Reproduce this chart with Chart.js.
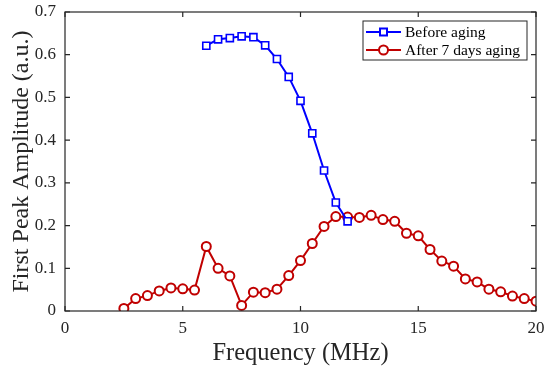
<!DOCTYPE html>
<html>
<head>
<meta charset="utf-8">
<script src="https://cdn.jsdelivr.net/npm/chart.js@4"></script>
<style>
  body { margin: 0; background: #fff; }
  #wrap { width: 550px; height: 375px; }
</style>
</head>
<body>
<div id="wrap"><canvas id="peak-chart"></canvas></div>
<script>
const freq_before = [6, 6.5, 7, 7.5, 8, 8.5, 9, 9.5, 10, 10.5, 11, 11.5, 12]
const amp_before = [0.621, 0.636, 0.639, 0.643, 0.641, 0.622, 0.590, 0.548, 0.492, 0.416, 0.329, 0.254, 0.210]

const freq_after = [2.5, 3, 3.5, 4, 4.5, 5, 5.5, 6, 6.5, 7, 7.5, 8, 8.5, 9, 9.5, 10, 10.5, 11, 11.5, 12,
                    12.5, 13, 13.5, 14, 14.5, 15, 15.5, 16, 16.5, 17, 17.5, 18, 18.5, 19, 19.5, 20]
const amp_after = [0.006, 0.029, 0.036, 0.047, 0.054, 0.052, 0.049, 0.151, 0.100, 0.082, 0.013, 0.044, 0.043, 0.051,
                   0.083, 0.118, 0.158, 0.198, 0.221, 0.220, 0.219, 0.224, 0.214, 0.210, 0.182, 0.176, 0.144, 0.117,
                   0.105, 0.075, 0.068, 0.051, 0.045, 0.035, 0.029, 0.023]

const series_names = ["Before aging", "After 7 days aging"]
const series_colours = ["#0000ff", "#c00000"]
const x_ticks = [0, 5, 10, 15, 20]
const y_ticks = [0, 0.1, 0.2, 0.3, 0.4, 0.5, 0.6, 0.7]

const serif = "'Liberation Serif', 'Times New Roman', serif"

function toPoints(xs, ys) {
  return xs.map((x, i) => ({x: x, y: ys[i]}))
}

// MATLAB style box with inward ticks on all four sides
const boxPlugin = {
  id: 'box',
  afterDatasetsDraw(chart) {
    const ctx = chart.ctx
    const a = chart.chartArea
    const xs = chart.scales.x
    const ys = chart.scales.y
    ctx.save()
    ctx.strokeStyle = '#262626'
    ctx.lineWidth = 1.2
    ctx.strokeRect(a.left, a.top, a.right - a.left, a.bottom - a.top)
    ctx.beginPath()
    x_ticks.forEach(v => {
      const px = xs.getPixelForValue(v)
      ctx.moveTo(px, a.bottom); ctx.lineTo(px, a.bottom - 5)
      ctx.moveTo(px, a.top); ctx.lineTo(px, a.top + 5)
    })
    y_ticks.forEach(v => {
      const py = ys.getPixelForValue(v)
      ctx.moveTo(a.left, py); ctx.lineTo(a.left + 5, py)
      ctx.moveTo(a.right, py); ctx.lineTo(a.right - 5, py)
    })
    ctx.stroke()

    // legend box
    const lx = 363, ly = 21, lw = 164, lh = 39
    ctx.fillStyle = '#fff'
    ctx.fillRect(lx, ly, lw, lh)
    ctx.strokeStyle = '#262626'
    ctx.lineWidth = 1
    ctx.strokeRect(lx, ly, lw, lh)
    ctx.font = "15.5px " + serif
    ctx.textBaseline = 'middle'
    chart.data.datasets.forEach((ds, i) => {
      const cy = ly + 11 + i * 18
      ctx.strokeStyle = ds.borderColor
      ctx.lineWidth = 2
      ctx.beginPath()
      ctx.moveTo(lx + 3, cy); ctx.lineTo(lx + 38, cy)
      ctx.stroke()
      ctx.fillStyle = '#fff'
      ctx.beginPath()
      if (ds.pointStyle === 'rect') {
        ctx.rect(lx + 20.5 - 3.5, cy - 3.5, 7, 7)
      } else {
        ctx.arc(lx + 20.5, cy, 4.5, 0, Math.PI * 2)
      }
      ctx.fill()
      ctx.stroke()
      ctx.fillStyle = '#000'
      ctx.fillText(ds.label, lx + 42, cy + 1)
    })
    ctx.restore()
  }
}

new Chart("peak-chart", {
  type: "line",
  data: {
    datasets: [
      {label: series_names[0], data: toPoints(freq_before, amp_before), borderColor: series_colours[0],
       backgroundColor: '#fff', borderWidth: 2, pointStyle: 'rect', pointRadius: 5, pointBorderWidth: 1.6, tension: 0},
      {label: series_names[1], data: toPoints(freq_after, amp_after), borderColor: series_colours[1],
       backgroundColor: '#fff', borderWidth: 2, pointStyle: 'circle', pointRadius: 4.5, pointBorderWidth: 2, tension: 0}
    ]
  },
  options: {
    responsive: true,
    maintainAspectRatio: false,
    animation: false,
    layout: {padding: {top: 12, right: 14, left: 0, bottom: 0}},
    plugins: {legend: {display: false}, tooltip: {enabled: false}},
    scales: {
      x: {
        type: 'linear', min: 0, max: 20,
        afterBuildTicks: s => { s.ticks = x_ticks.map(v => ({value: v})) },
        afterFit: s => { s.height = 64; s.paddingLeft = 0; s.paddingRight = 0 },
        grid: {display: false, drawTicks: false},
        border: {display: false},
        ticks: {color: '#262626', font: {family: serif, size: 17}, padding: 7},
        title: {display: true, text: 'Frequency (MHz)', color: '#262626', font: {family: serif, size: 24.5}, padding: {top: 7, bottom: 7}}
      },
      y: {
        type: 'linear', min: 0, max: 0.7,
        afterBuildTicks: s => { s.ticks = y_ticks.map(v => ({value: v})) },
        afterFit: s => { s.width = 65; s.paddingTop = 0; s.paddingBottom = 0 },
        grid: {display: false, drawTicks: false},
        border: {display: false},
        ticks: {color: '#262626', font: {family: serif, size: 17}, padding: 9, callback: v => String(v)},
        title: {display: true, text: 'First Peak Amplitude (a.u.)', color: '#262626', font: {family: serif, size: 24}, padding: {top: 7, bottom: 7}}
      }
    }
  },
  plugins: [boxPlugin]
})
</script>
</body>
</html>
